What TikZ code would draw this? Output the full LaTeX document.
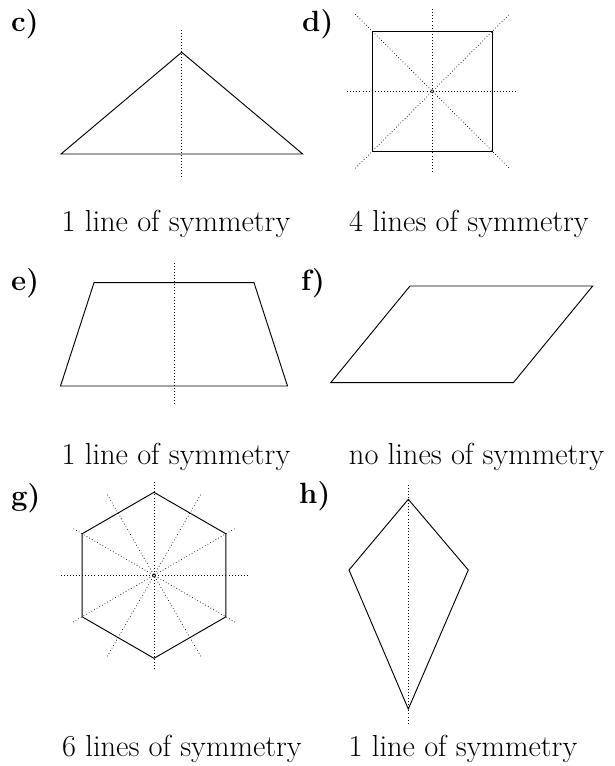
\documentclass[tikz,border=0pt]{standalone}
\usepackage{tikz}

\begin{document}
\begin{tikzpicture}[x=0.03cm, y=-0.03cm,
    outline/.style={draw, line width=0.8pt, line join=miter},
    symline/.style={draw, dotted, line width=0.6pt},
    caption/.style={anchor=base, inner sep=0pt, font=\fontsize{26}{30}\selectfont},
    tag/.style={anchor=base west, inner sep=0pt, font=\fontsize{25}{30}\selectfont\bfseries}]
    \useasboundingbox (0,0) rectangle (614,766);

    % c) triangle
    \node[tag] (tagc) at (11,32) {c)};
    \draw[outline] (61,154) -- (181.7,52.3) -- (302.7,154) -- cycle;
    \draw[symline] (181.7,30) -- (181.7,177);
    \node[caption] (capc) at (176,231.7) {1 line of symmetry};

    % d) square
    \node[tag] (tagd) at (302,32) {d)};
    \begin{scope}[shift={(432.3,91.3)}]
        \draw[outline] (-60,-60) rectangle (60,60);
        \draw[symline] (-85,0) -- (85,0);
        \draw[symline] (0,-82) -- (0,82);
        \draw[symline] (-77,-77) -- (77,77);
        \draw[symline] (-77,77) -- (77,-77);
        \draw[line width=0.4pt] (0,0) circle (1.6);
    \end{scope}
    \node[caption] (capd) at (469,231.7) {4 lines of symmetry};

    % e) trapezium
    \node[tag] (tage) at (11,290) {e)};
    \draw[outline] (94,282.7) -- (254,282.7) -- (287.5,386) -- (60.5,386) -- cycle;
    \draw[symline] (174,263) -- (174,406);
    \node[caption] (cape) at (176,464) {1 line of symmetry};

    % f) parallelogram
    \node[tag] (tagf) at (301,290) {f)};
    \draw[outline] (410,286) -- (592.7,286) -- (513.3,382.7) -- (330.7,382.7) -- cycle;
    \node[caption] (capf) at (476.5,464) {no lines of symmetry};

    % g) hexagon
    \node[tag] (tagg) at (11,505) {g)};
    \begin{scope}[shift={(154,575.3)}]
        \draw[outline] (30:83) -- (90:83) -- (150:83) -- (210:83) -- (270:83) -- (330:83) -- cycle;
        \foreach \a in {0,30,...,150}
            \draw[symline] (\a:93.5) -- (\a+180:93.5);
        \draw[line width=0.4pt] (0,0) circle (1.6);
    \end{scope}
    \node[caption] (capg) at (182,756.7) {6 lines of symmetry};

    % h) kite
    \node[tag] (tagh) at (299,503) {h)};
    \draw[outline] (408.3,499.3) -- (468.3,570) -- (408.3,709) -- (349,570) -- cycle;
    \draw[symline] (408.3,485) -- (408.3,725);
    \node[caption] (caph) at (463,756.7) {1 line of symmetry};
\end{tikzpicture}
\end{document}
